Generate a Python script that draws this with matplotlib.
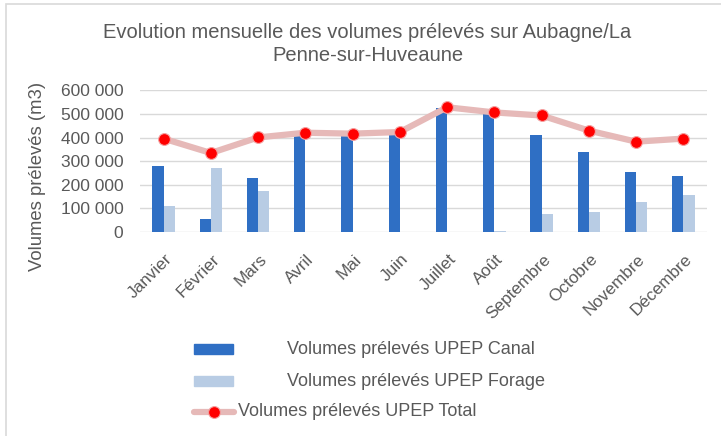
import matplotlib

matplotlib.use("Agg")
import matplotlib.pyplot as plt
import numpy as np
from matplotlib.lines import Line2D
from matplotlib.patches import Rectangle
from matplotlib.ticker import FuncFormatter
from matplotlib.transforms import ScaledTranslation

plt.rcParams["font.family"] = ["Liberation Sans", "DejaVu Sans"]

TEXT = "#595959"
GRID = "#D9D9D9"
CANAL_COLOR = "#2F6FC4"
FORAGE_COLOR = "#B8CCE4"
TOTAL_LINE = "#E6B9B8"
TOTAL_MARK = "#FF0000"

months = ["Janvier", "Février", "Mars", "Avril", "Mai", "Juin", "Juillet",
          "Août", "Septembre", "Octobre", "Novembre", "Décembre"]
canal = [281000, 57000, 227000, 408000, 406000, 413000, 526000,
         505000, 413000, 340000, 254000, 237000]
forage = [110000, 272000, 172000, 2000, 1000, 1000, 1000,
          3000, 78000, 85000, 128000, 157000]
total = [396000, 335000, 401000, 421000, 417000, 424000, 529000,
         507000, 494000, 430000, 383000, 396000]
y_ticks = [0, 100000, 200000, 300000, 400000, 500000, 600000]

W, H = 721, 436
fig = plt.figure(figsize=(W / 100, H / 100), dpi=100)

# chart border (left/top visible, rest runs off the picture)
fig.patches.append(Rectangle((6 / W, -0.05), 1.1, 1 - 4 / H + 0.05,
                             transform=fig.transFigure, fill=False,
                             edgecolor=GRID, linewidth=1.2))

ax = fig.add_axes([140 / W, 1 - 232 / H, (707 - 140) / W, (232 - 90.5) / H])
x = np.arange(len(months))
bw = 0.24
ax.bar(x - bw / 2, canal, width=bw, color=CANAL_COLOR, zorder=2)
ax.bar(x + bw / 2, forage, width=bw, color=FORAGE_COLOR, zorder=2)
ax.plot(x, total, color=TOTAL_LINE, linewidth=4.5, solid_capstyle="round", zorder=3)
ax.plot(x, total, linestyle="none", marker="o", markersize=8.5,
        markerfacecolor=TOTAL_MARK, markeredgecolor="#F4A0A0",
        markeredgewidth=0.8, zorder=4)

ax.set_xlim(-0.5, len(months) - 0.5)
ax.set_ylim(0, 600000)
ax.set_yticks(y_ticks)
ax.yaxis.set_major_formatter(FuncFormatter(lambda v, p: f"{int(v):,}".replace(",", " ")))
ax.grid(True, axis="y", color=GRID, linewidth=1.0, zorder=0)
for s in ax.spines.values():
    s.set_visible(False)
ax.tick_params(axis="y", length=0, pad=12, labelsize=12.5, labelcolor=TEXT)
ax.tick_params(axis="x", length=0, pad=4, labelsize=12.3, labelcolor=TEXT)
ax.set_xticks(x)
ax.set_xticklabels(months, rotation=45, ha="right", rotation_mode="anchor")
for lab in ax.get_xticklabels():
    lab.set_transform(lab.get_transform()
                      + ScaledTranslation(1 / 100, -14 / 100, fig.dpi_scale_trans))

fig.text(38 / W, 1 - 176 / H, "Volumes prélevés (m3)", rotation=90,
         ha="center", va="center", fontsize=13.3, color=TEXT)
fig.text(367.5 / W, 1 - 44 / H,
         "Evolution mensuelle des volumes prélevés sur Aubagne/La\nPenne-sur-Huveaune",
         ha="center", va="center", multialignment="center", fontsize=14.5,
         color=TEXT, linespacing=1.22)

# legend, laid out as in the original
fig.patches.append(Rectangle((194 / W, 1 - 354 / H), 39 / W, 10 / H,
                             transform=fig.transFigure, color=CANAL_COLOR))
fig.text(287 / W, 1 - 349 / H, "Volumes prélevés UPEP Canal", ha="left",
         va="center", fontsize=13, color=TEXT)
fig.patches.append(Rectangle((194 / W, 1 - 386 / H), 39 / W, 10 / H,
                             transform=fig.transFigure, color=FORAGE_COLOR))
fig.text(287 / W, 1 - 381 / H, "Volumes prélevés UPEP Forage", ha="left",
         va="center", fontsize=13, color=TEXT)
fig.lines.append(Line2D([194 / W, 234 / W], [1 - 412 / H] * 2,
                        transform=fig.transFigure, color=TOTAL_LINE,
                        linewidth=4.5, solid_capstyle="round"))
fig.lines.append(Line2D([214 / W], [1 - 412 / H], transform=fig.transFigure,
                        marker="o", markersize=8.5, markerfacecolor=TOTAL_MARK,
                        markeredgecolor="#F4A0A0", markeredgewidth=0.8))
fig.text(238 / W, 1 - 411 / H, "Volumes prélevés UPEP Total", ha="left",
         va="center", fontsize=13, color=TEXT)

fig.savefig("out.png", dpi=100)
